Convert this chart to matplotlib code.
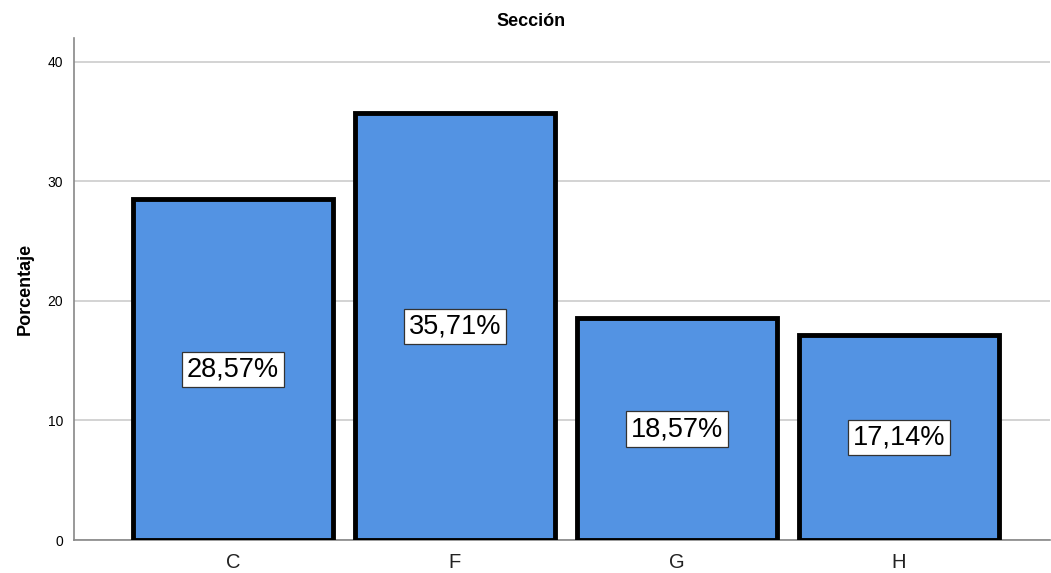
import matplotlib
matplotlib.use("Agg")
import matplotlib.pyplot as plt

categories = ["C", "F", "G", "H"]
percentages = [28.57, 35.71, 18.57, 17.14]
yticks = [0, 10, 20, 30, 40]

plt.rcParams['font.family'] = ['Liberation Sans', 'DejaVu Sans']

fig = plt.figure(figsize=(10.51, 5.73), dpi=100)
ax = fig.add_axes([74 / 1051, 1 - 540 / 573, (1050 - 74) / 1051, (540 - 38) / 573])

x = list(range(len(categories)))
ax.bar(x, percentages, width=0.9, color="#5393E3", edgecolor="black",
       linewidth=3.5, zorder=3)

for xi, v in zip(x, percentages):
    label = f"{v:.2f}".replace(".", ",") + "%"
    ax.text(xi, v / 2, label, ha="center", va="center", fontsize=19.5, zorder=4,
            bbox=dict(boxstyle="square,pad=0.17", facecolor="white",
                      edgecolor="#333333", linewidth=0.9))

ax.set_xlim(-0.716, 3.68)
ax.set_ylim(0, 42)
ax.set_yticks(yticks)
ax.set_yticklabels([str(t) for t in yticks], fontsize=10)
ax.set_xticks(x)
ax.set_xticklabels(categories, fontsize=14.5, color="#222222")
ax.tick_params(axis="both", length=0)
ax.tick_params(axis="y", pad=8)
ax.tick_params(axis="x", pad=9)

ax.yaxis.grid(True, color="#d0d0d0", linewidth=1.3, zorder=0)
ax.set_axisbelow(True)
for s in ["top", "right"]:
    ax.spines[s].set_visible(False)
for s in ["left", "bottom"]:
    ax.spines[s].set_color("#888888")
    ax.spines[s].set_linewidth(1.2)

ax.set_ylabel("Porcentaje", fontsize=13, fontweight="bold", labelpad=10)
fig.text(531 / 1051, 1 - 21 / 573, "Sección", ha="center", va="center",
         fontsize=13, fontweight="bold")

fig.savefig("out.png", dpi=100)
